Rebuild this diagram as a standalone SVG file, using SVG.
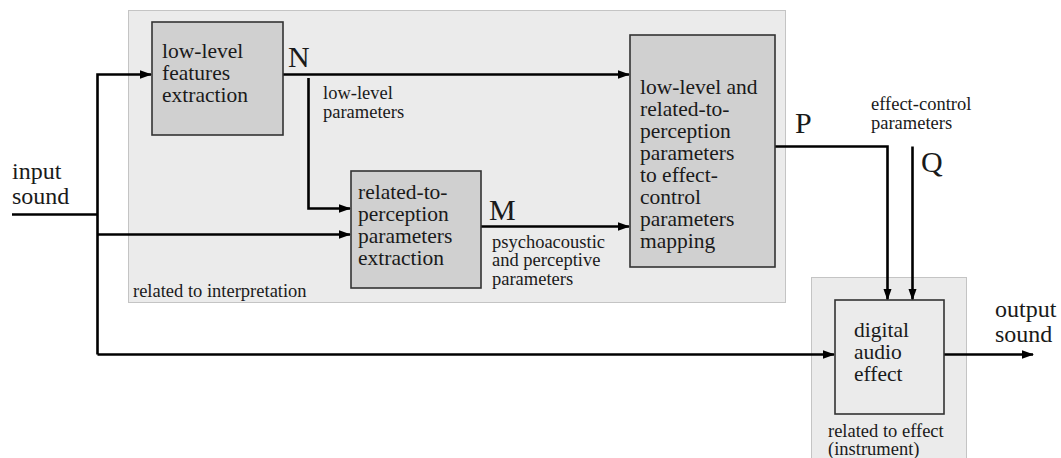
<svg xmlns="http://www.w3.org/2000/svg" width="1061" height="458" viewBox="0 0 1061 458" font-family="'Liberation Serif', 'Times New Roman', serif">
<style>
  .region { fill: #ebebeb; stroke: #c4c4c4; stroke-width: 1; }
  .box { fill: #d0d0d0; stroke: #333; stroke-width: 1.6; }
  .box2 { fill: #ebebeb; stroke: #333; stroke-width: 1.6; }
  text { font-family: "Liberation Serif", "Times New Roman", serif; fill: #1a1a1a; }
  .t19 { font-size: 21.5px; }
  .t16 { font-size: 18.5px; }
  .t24 { font-size: 24px; }
  .big { font-size: 30px; }
  .wire { fill: none; stroke: #000; stroke-width: 2.6; }
</style>
<defs>
  <marker id="arr" markerWidth="12" markerHeight="10" refX="11" refY="5" orient="auto" markerUnits="userSpaceOnUse">
    <path d="M0,0.8 L12,5 L0,9.2 z" fill="#000"/>
  </marker>
</defs>
<rect width="1061" height="458" fill="#fff"/>

<g id="region-interpretation">
  <rect class="region" x="128.5" y="10.5" width="657" height="292"/>
  <text class="t16" x="133" y="297">related to interpretation</text>
</g>
<g id="region-effect">
  <rect class="region" x="811.5" y="277.5" width="155" height="185"/>
  <text class="t16" x="828" y="437">related to effect</text>
  <text class="t16" x="828" y="455">(instrument)</text>
</g>

<g id="connectors">
  <path class="wire" d="M12,214.5 H97.5"/>
  <path class="wire" d="M97.5,354.5 V74.5 H151" marker-end="url(#arr)"/>
  <path class="wire" d="M97.5,234.5 H350" marker-end="url(#arr)"/>
  <path class="wire" d="M97.5,354.5 H834" marker-end="url(#arr)"/>
  <path class="wire" d="M283,74.5 H629" marker-end="url(#arr)"/>
  <path class="wire" d="M308.5,78 V208.5 H350" marker-end="url(#arr)"/>
  <path class="wire" d="M481,226.5 H629" marker-end="url(#arr)"/>
  <path class="wire" d="M775,146.5 H887.5 V299.5" marker-end="url(#arr)"/>
  <path class="wire" d="M912.5,146.5 V299.5" marker-end="url(#arr)"/>
  <path class="wire" d="M944,354.5 H1033" marker-end="url(#arr)"/>
</g>

<g id="labels">
  <text class="t24" x="12" y="178.5">input</text>
  <text class="t24" x="12" y="204">sound</text>
  <text class="t24" x="995" y="317">output</text>
  <text class="t24" x="995" y="342">sound</text>
  <text class="big" x="288" y="67">N</text>
  <text class="t16" x="323" y="99">low-level</text>
  <text class="t16" x="323" y="118">parameters</text>
  <text class="big" x="489" y="220">M</text>
  <circle cx="510" cy="212" r="1" fill="#333"/>
  <text class="t16" x="492" y="248">psychoacoustic</text>
  <text class="t16" x="492" y="266">and perceptive</text>
  <text class="t16" x="492" y="285">parameters</text>
  <text class="big" x="795" y="133">P</text>
  <text class="t16" x="871" y="110">effect-control</text>
  <text class="t16" x="871" y="129">parameters</text>
  <text class="big" x="921" y="172">Q</text>
</g>

<g id="node-lowlevel">
  <rect class="box" x="152" y="22" width="131" height="113"/>
  <text class="t19" x="162" y="58">low-level</text>
  <text class="t19" x="162" y="80">features</text>
  <text class="t19" x="162" y="102">extraction</text>
</g>

<g id="node-perception">
  <rect class="box" x="351" y="171" width="130" height="117"/>
  <text class="t19" x="358" y="199">related-to-</text>
  <text class="t19" x="358" y="221">perception</text>
  <text class="t19" x="358" y="243">parameters</text>
  <text class="t19" x="358" y="265">extraction</text>
</g>

<g id="node-mapping">
  <rect class="box" x="630" y="35" width="145" height="232"/>
  <text class="t19" x="640" y="94">low-level and</text>
  <text class="t19" x="640" y="116">related-to-</text>
  <text class="t19" x="640" y="138">perception</text>
  <text class="t19" x="640" y="160">parameters</text>
  <text class="t19" x="640" y="182">to effect-</text>
  <text class="t19" x="640" y="204">control</text>
  <text class="t19" x="640" y="226">parameters</text>
  <text class="t19" x="640" y="248">mapping</text>
</g>

<g id="node-effect">
  <rect class="box2" x="835" y="300" width="109" height="114"/>
  <text class="t19" x="854" y="337">digital</text>
  <text class="t19" x="854" y="359">audio</text>
  <text class="t19" x="854" y="381">effect</text>
</g>
</svg>
